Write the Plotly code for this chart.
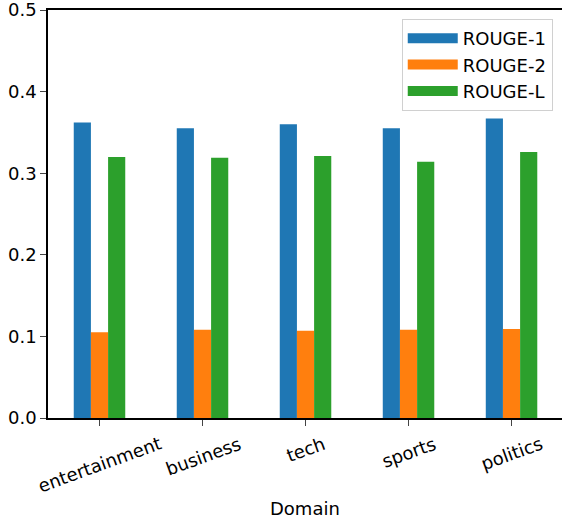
import plotly.graph_objects as go

domains = ["entertainment", "business", "tech", "sports", "politics"]
rouge1 = [0.362, 0.355, 0.360, 0.355, 0.367]
rouge2 = [0.105, 0.108, 0.107, 0.108, 0.109]
rougeL = [0.320, 0.319, 0.321, 0.314, 0.326]
series_names = ["ROUGE-1", "ROUGE-2", "ROUGE-L"]
colors = ["#1f77b4", "#ff7f0e", "#2ca02c"]
y_ticks = [0.0, 0.1, 0.2, 0.3, 0.4, 0.5]
x_title = "Domain"

FS = 18
fig = go.Figure()
xs = list(range(len(domains)))
for name, vals, col in zip(series_names, [rouge1, rouge2, rougeL], colors):
    fig.add_trace(go.Bar(x=xs, y=vals, name=name, showlegend=False,
                         marker=dict(color=col, line=dict(width=0))))
# legend entries drawn as wide patches
for name, col in zip(series_names, colors):
    fig.add_trace(go.Scatter(x=[None], y=[None], name=name, mode="lines",
                             line=dict(color=col, width=13), showlegend=True))

annotations = []
for i, d in enumerate(domains):
    annotations.append(dict(x=i, y=-0.03, xref="x", yref="paper", text=d,
                            showarrow=False, textangle=-20,
                            xanchor="center", yanchor="top",
                            font=dict(size=FS)))
annotations.append(dict(x=0.5, y=-0.223, xref="paper", yref="paper", text=x_title,
                        showarrow=False, xanchor="center", yanchor="middle",
                        font=dict(size=FS)))

font = "DejaVu Sans"
fig.update_layout(
    width=562, height=519,
    margin=dict(l=48, r=0, t=10, b=101),
    paper_bgcolor="white", plot_bgcolor="white",
    barmode="group", bargap=0.5, bargroupgap=0,
    font=dict(family=font, size=FS, color="black"),
    showlegend=True,
    legend=dict(x=0.982, y=0.978, xanchor="right", yanchor="top",
                bgcolor="white", bordercolor="#d0d0d0", borderwidth=1,
                font=dict(size=FS), tracegroupgap=0, itemwidth=50),
    annotations=annotations,
    xaxis=dict(range=[-0.5, 4.49], tickmode="array",
               tickvals=xs, ticktext=[""] * len(domains),
               ticks="outside", ticklen=6, tickwidth=1.3,
               showline=True, linecolor="black", linewidth=1.5, mirror=True,
               showgrid=False, zeroline=False, automargin=False),
    yaxis=dict(range=[0, 0.5], tickmode="array", tickvals=y_ticks,
               ticktext=[f"{v:.1f}" for v in y_ticks],
               ticks="outside", ticklen=6, tickwidth=1.3,
               showline=True, linecolor="black", linewidth=1.5, mirror=False,
               showgrid=False, zeroline=False, automargin=False,
               ticklabeloverflow="allow"),
)
fig.write_html("out.html", config={"displayModeBar": False},
               post_script="document.body.style.margin='0';document.body.style.overflow='hidden';")
